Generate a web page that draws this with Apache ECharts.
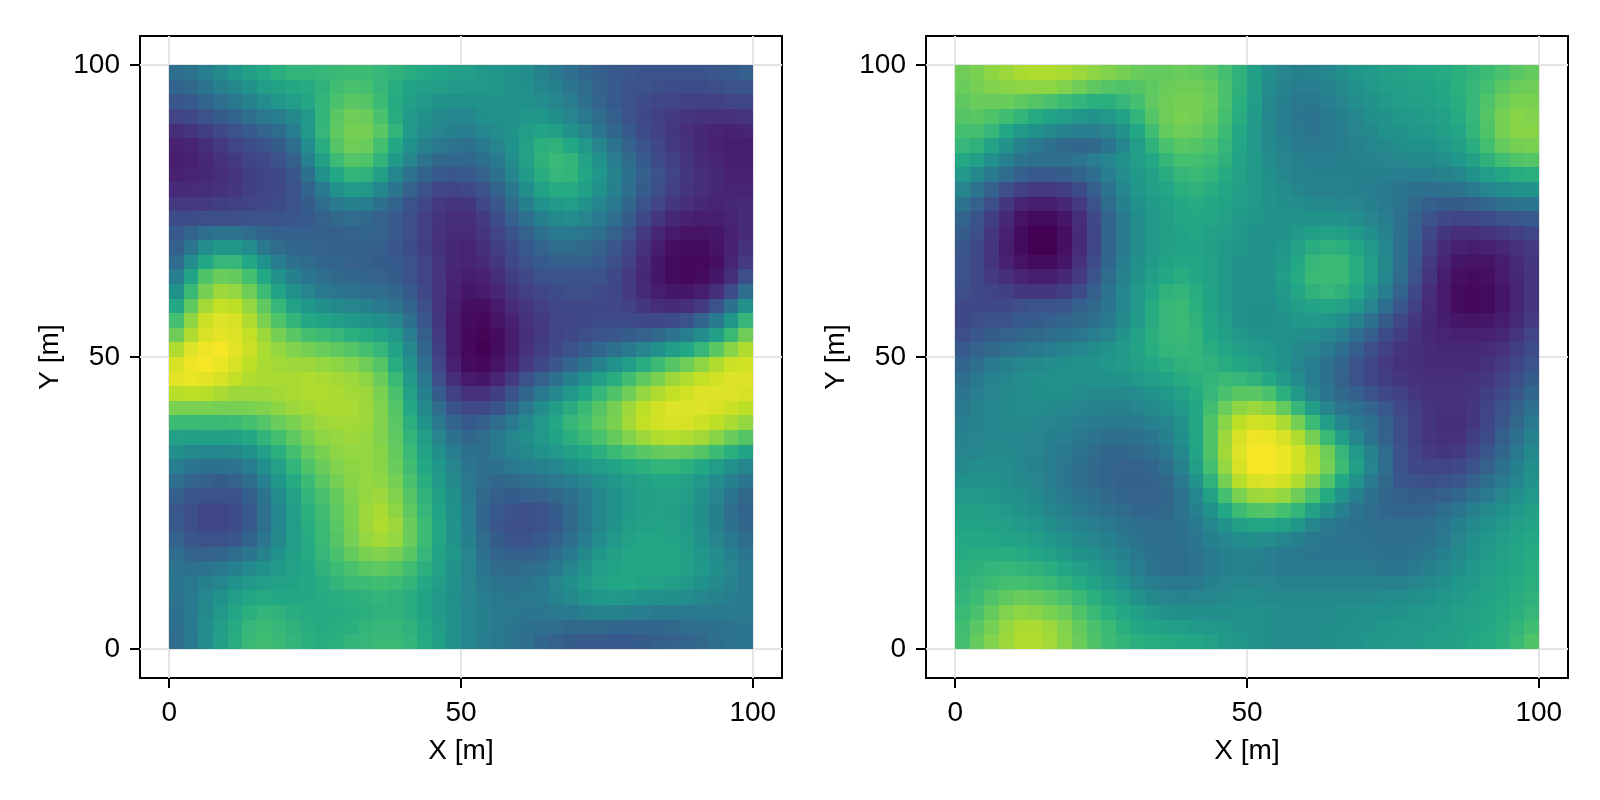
<!DOCTYPE html>
<html>
<head>
<meta charset="utf-8">
<style>html,body{margin:0;padding:0;background:#fff}#chart{width:1600px;height:800px}</style>
<script src="https://cdn.jsdelivr.net/npm/echarts@6/dist/echarts.min.js"></script>
</head>
<body>
<div id="chart"></div>
<script>
// Field samples, top row first, 40 cells across 0-100 m on each axis.
const fieldLeft = [
[36,38,42,47,52,56,60,63,65,65,66,67,68,68,66,64,62,60,58,56,55,53,52,50,48,44,40,36,33,30,28,27,26,26,26,26,26,27,28,30],
[32,34,38,43,47,51,55,58,60,61,64,69,71,70,66,62,58,56,55,54,53,53,52,51,49,46,43,39,35,31,28,26,25,24,23,23,23,24,25,26],
[27,28,32,36,40,44,48,52,55,59,65,71,74,73,68,61,56,53,51,50,50,51,51,51,50,48,46,42,37,32,28,25,23,21,20,19,19,19,20,21],
[20,22,25,29,32,36,40,42,47,53,65,74,78,77,71,62,54,50,47,46,46,49,50,51,52,52,49,45,40,35,30,26,22,19,17,15,14,14,14,15],
[13,15,18,22,25,28,32,35,42,53,66,75,79,79,74,65,54,48,45,43,42,46,48,51,55,58,56,51,45,39,33,28,23,19,16,13,11,10,9,10],
[9,10,13,17,20,23,26,29,36,48,62,73,78,77,70,60,50,44,40,38,37,41,45,50,57,63,64,60,53,45,38,31,26,21,17,14,11,9,8,8],
[8,9,11,14,17,20,22,25,31,43,57,68,73,72,65,54,45,38,34,33,33,36,41,48,57,64,67,65,58,50,42,35,28,23,19,15,12,10,8,8],
[9,10,11,13,15,18,20,22,27,37,50,60,65,64,56,46,38,32,28,27,28,31,37,45,54,62,66,65,59,52,44,37,30,25,20,16,13,11,9,9],
[12,12,13,14,16,18,20,22,25,32,41,50,54,53,46,39,31,25,21,20,22,26,32,40,49,57,61,61,56,50,43,36,29,24,19,15,13,11,10,10],
[17,17,17,18,19,20,21,23,25,29,35,41,43,42,37,32,26,21,17,15,16,21,27,35,43,50,54,55,51,46,40,33,26,20,16,13,11,10,11,12],
[23,23,24,24,24,25,25,26,27,28,31,34,35,34,31,28,24,19,15,13,13,17,23,30,37,43,47,48,45,41,36,29,22,16,11,9,8,8,10,12],
[28,32,36,38,38,35,32,30,30,30,30,30,31,32,31,28,24,19,14,12,12,15,20,26,31,37,40,41,39,36,31,25,17,11,7,5,5,6,9,12],
[30,39,48,52,52,48,40,35,33,32,31,30,30,30,30,27,23,18,14,11,10,13,18,23,28,32,35,35,34,31,27,21,14,8,4,3,3,5,9,14],
[35,48,60,66,66,60,50,42,37,35,33,32,31,30,29,28,25,20,15,11,10,12,16,21,25,28,30,30,30,28,24,19,12,6,3,2,2,4,10,17],
[42,58,72,77,76,70,60,50,43,39,36,34,33,32,31,29,26,20,15,10,8,9,13,18,22,25,26,26,26,25,22,17,11,6,3,2,3,6,13,24],
[50,67,79,85,84,78,68,58,50,45,41,39,38,36,35,33,28,22,15,9,6,7,10,15,19,21,23,24,24,23,21,17,12,8,6,6,8,13,23,36],
[60,75,86,91,90,84,75,66,57,52,49,47,45,43,41,38,32,24,15,8,4,4,7,12,16,19,21,22,22,22,21,19,16,13,12,13,17,25,37,50],
[70,83,92,95,94,88,80,72,65,60,58,55,53,51,49,45,37,27,16,7,3,2,5,9,14,17,20,21,22,23,23,23,22,22,23,26,32,41,52,66],
[78,88,94,96,95,91,85,79,74,70,68,66,63,61,58,53,42,30,17,7,2,1,3,8,13,17,20,22,24,26,27,29,31,34,38,42,48,56,67,78],
[88,95,98,99,96,92,87,84,81,79,77,75,73,70,66,58,47,33,18,7,2,0,3,8,14,18,22,25,29,33,37,41,45,50,55,60,66,74,82,88],
[94,98,99,97,94,90,87,86,85,85,84,83,81,78,73,62,51,36,20,9,3,2,5,10,17,22,27,32,38,44,50,55,62,68,73,78,83,88,92,93],
[96,97,96,94,91,88,87,87,87,88,87,86,85,83,77,67,54,40,24,13,7,6,10,17,25,31,37,43,50,56,62,69,75,80,85,88,91,93,95,95],
[89,90,89,87,85,85,85,86,87,88,88,87,86,85,80,71,57,43,29,19,14,14,18,25,33,40,46,53,60,66,72,78,84,88,91,93,95,95,95,94],
[80,80,80,79,79,80,81,83,85,86,87,87,87,85,81,73,60,47,35,26,22,22,26,33,41,48,55,62,67,73,79,85,90,93,95,95,95,94,92,90],
[68,68,67,67,68,70,73,77,80,83,85,86,86,85,81,74,63,51,40,32,28,30,35,41,47,53,60,66,70,75,80,86,91,93,94,94,92,90,87,84],
[57,56,56,56,57,60,65,70,75,80,83,84,85,84,81,75,65,55,45,37,33,35,40,45,49,53,58,63,67,71,76,81,85,88,89,88,86,82,77,73],
[49,47,46,46,47,50,56,63,70,76,80,83,84,84,82,76,67,58,49,42,37,36,40,44,47,50,53,56,60,63,67,71,74,76,77,76,73,68,63,58],
[42,39,37,37,38,42,49,57,65,72,77,81,83,84,82,77,69,60,52,45,39,36,37,40,42,44,46,49,52,55,58,61,63,65,65,63,60,55,50,46],
[36,32,30,29,31,35,43,52,61,68,74,79,82,84,83,79,71,62,54,47,40,35,33,34,36,38,40,42,45,49,52,55,57,59,59,57,53,48,43,39],
[30,27,25,25,26,30,38,48,57,65,71,76,81,84,85,81,73,64,56,49,41,34,30,29,30,31,34,37,41,46,50,54,56,57,57,55,50,45,39,34],
[27,24,21,21,23,28,36,46,55,63,69,75,80,85,87,83,75,66,58,50,42,33,28,25,24,26,29,34,40,46,50,54,56,57,56,54,49,43,36,32],
[28,24,21,21,23,28,36,46,55,62,68,74,80,85,88,85,77,68,59,51,42,33,27,24,24,25,28,34,40,46,51,55,57,58,57,54,49,43,37,33],
[31,27,25,25,27,32,39,47,55,61,67,73,79,84,86,84,77,68,59,51,43,35,29,26,26,28,31,36,42,48,53,57,59,59,58,55,50,45,40,36],
[35,32,31,32,35,39,44,50,56,61,66,71,76,80,81,79,74,66,58,52,45,37,32,30,30,32,36,41,47,52,56,59,60,60,59,56,52,48,43,39],
[38,37,38,40,43,47,50,54,57,60,64,68,71,74,75,73,69,63,57,51,45,39,35,34,35,37,41,46,51,55,58,60,60,60,59,56,53,49,45,41],
[39,40,43,46,50,53,55,57,58,60,62,65,67,68,69,68,65,60,55,50,45,41,38,37,38,41,45,49,54,57,59,59,58,57,55,53,50,47,44,41],
[38,41,46,50,55,59,61,60,60,60,61,62,63,64,65,64,62,58,53,49,45,42,40,39,40,41,44,47,50,52,53,52,51,50,49,48,46,44,42,41],
[37,41,47,53,59,63,65,64,62,61,61,61,62,63,64,64,62,58,54,50,46,43,41,40,39,39,40,41,43,44,44,43,42,41,41,41,41,41,41,40],
[36,41,48,55,61,66,68,66,64,62,61,62,63,65,66,66,64,60,55,50,46,43,41,39,37,36,35,34,34,34,33,33,33,33,34,35,36,37,38,39],
[35,40,48,56,62,67,69,67,65,63,62,63,65,66,67,67,65,61,56,50,46,42,40,38,36,33,31,29,28,28,28,28,29,30,31,32,34,36,38,39]
];
const fieldRight = [
[78,80,83,85,87,88,88,87,85,83,81,79,77,76,76,77,76,74,70,64,56,49,45,43,44,46,49,52,54,56,57,59,60,61,63,65,68,71,74,76],
[77,79,81,82,83,83,83,81,78,75,73,72,73,75,77,78,78,76,71,64,56,48,44,42,42,44,47,50,53,55,56,57,58,60,63,66,70,74,77,78],
[75,77,77,77,75,73,71,68,65,63,63,66,70,75,78,79,79,77,71,63,55,47,43,40,40,42,45,48,51,53,55,56,57,59,62,66,72,77,80,80],
[73,74,72,69,65,61,58,55,52,51,53,58,65,73,78,80,79,76,70,62,54,46,42,39,38,40,43,46,49,51,53,54,55,57,61,66,73,79,82,81],
[70,70,66,60,54,50,47,44,42,42,45,51,60,69,76,78,77,74,68,60,53,47,42,40,38,40,42,45,47,50,51,52,53,56,59,65,72,79,82,82],
[66,64,58,51,44,40,37,34,33,34,39,46,55,64,71,74,73,71,66,59,53,47,44,41,40,41,42,44,46,47,49,50,50,53,56,62,70,76,79,80],
[60,56,49,43,38,36,36,37,38,42,46,50,55,60,66,70,70,68,64,58,53,48,45,43,42,42,43,43,44,45,46,47,47,49,52,57,64,69,72,73],
[53,47,41,35,30,28,28,29,32,36,42,48,53,57,62,66,67,65,61,57,53,49,46,44,43,43,43,43,43,43,42,42,42,44,46,50,55,59,62,63],
[45,38,31,24,19,17,17,18,23,30,38,46,52,56,59,63,64,62,59,56,53,50,48,46,44,44,44,43,42,41,39,37,36,37,38,41,45,48,50,51],
[38,31,24,16,10,8,8,11,17,25,35,43,50,54,57,60,61,60,58,55,53,51,49,48,47,47,46,45,43,41,38,34,30,29,29,30,33,36,38,39],
[32,26,18,11,5,3,3,6,13,22,32,41,48,53,56,59,60,59,57,54,52,51,50,50,51,51,50,48,45,42,37,31,26,22,20,21,23,25,27,28],
[29,24,16,9,3,0,0,4,12,21,32,41,48,53,56,58,59,57,55,53,51,50,51,53,56,57,56,53,49,44,37,30,22,16,13,13,15,17,19,21],
[27,22,15,8,3,0,0,4,12,21,32,41,48,53,56,58,58,56,54,52,50,50,52,57,62,64,63,59,53,46,37,28,19,12,9,8,9,11,14,17],
[26,22,15,9,5,3,3,6,14,23,33,42,49,54,58,60,59,57,54,51,50,51,54,60,66,68,67,62,55,47,37,27,17,10,6,5,5,8,12,16],
[25,22,17,13,10,8,8,11,17,26,35,44,51,56,60,62,60,57,54,51,50,51,55,61,67,68,67,62,55,46,35,25,15,8,4,3,4,7,11,15],
[24,22,20,18,16,16,16,18,23,30,38,46,53,59,64,65,62,58,54,51,50,50,54,59,64,66,64,59,51,42,32,22,13,7,3,2,3,6,10,15],
[22,22,22,22,24,26,26,27,30,34,39,46,53,61,66,67,63,58,54,50,49,49,52,55,58,59,57,52,45,36,27,19,12,7,3,2,3,6,10,15],
[22,24,25,26,28,29,30,32,34,37,41,47,54,62,66,67,64,59,55,51,49,49,50,52,53,52,49,44,37,29,22,16,11,8,6,5,6,8,12,17],
[24,27,29,31,33,34,35,37,39,42,45,51,57,63,66,67,65,60,56,53,51,50,50,49,48,46,42,36,30,23,18,14,11,10,9,9,9,11,15,20],
[28,31,34,37,39,41,42,44,46,48,51,54,58,62,65,66,65,62,59,56,54,52,50,47,45,41,36,30,24,19,15,13,12,11,11,11,12,14,18,23],
[32,36,40,43,46,47,48,49,50,51,52,54,56,59,62,64,65,64,62,60,57,54,50,46,42,37,32,26,21,17,14,13,12,12,12,12,14,17,21,26],
[36,40,44,46,48,49,50,50,50,50,50,51,53,55,58,61,63,65,67,66,64,60,54,48,42,37,31,26,21,18,16,14,13,13,13,14,16,19,24,29],
[39,42,45,47,48,49,49,49,48,47,47,47,48,51,54,57,61,66,71,74,74,71,63,54,45,39,34,30,26,22,19,16,14,14,14,15,18,22,27,33],
[41,44,46,47,48,48,47,46,45,44,43,43,45,47,50,54,60,69,77,83,85,83,76,66,55,45,39,36,32,27,22,18,15,14,14,16,20,25,31,37],
[42,44,46,47,47,46,45,44,42,41,40,40,41,43,46,51,60,72,82,90,93,92,87,79,68,55,46,41,37,30,24,19,15,13,13,16,21,27,34,41],
[44,45,46,46,46,45,43,42,40,38,36,36,37,39,43,49,59,72,85,94,98,97,94,88,79,67,55,46,38,31,24,19,15,14,14,18,23,30,37,44],
[45,46,47,47,46,45,42,40,38,35,33,33,34,36,40,47,58,72,86,95,99,99,97,93,87,78,66,54,44,35,25,20,17,16,17,21,27,33,40,47],
[47,48,48,48,46,44,42,39,36,34,32,31,31,33,37,44,55,70,84,94,99,99,97,93,88,79,68,56,45,36,26,22,20,20,22,25,31,37,43,49],
[50,50,50,49,47,45,42,39,36,34,32,30,30,31,34,41,51,64,79,89,94,95,93,88,81,72,60,50,41,34,27,25,24,25,27,31,36,41,46,51],
[53,53,52,51,49,47,44,41,38,36,34,32,31,31,33,38,46,57,70,80,85,86,84,78,71,61,51,43,37,33,30,29,29,30,33,37,41,45,49,53],
[56,56,55,53,51,49,46,43,41,39,37,35,33,33,34,38,43,50,60,68,72,73,70,65,57,49,43,38,35,33,32,32,33,36,39,43,47,50,53,56],
[58,58,57,56,54,52,49,46,44,42,40,38,36,35,35,37,41,46,51,56,59,59,57,52,46,41,39,37,36,35,35,35,36,39,43,47,50,53,56,58],
[60,60,60,58,57,55,52,50,47,45,43,40,38,36,36,37,39,43,46,48,49,48,46,43,40,39,38,38,37,36,36,36,38,41,45,49,52,55,58,60],
[61,62,62,62,61,59,57,54,51,49,46,43,40,37,36,36,38,41,43,44,44,42,41,40,39,39,39,39,38,37,37,38,40,43,47,50,54,57,59,61],
[63,64,65,66,65,64,62,59,56,53,50,46,42,38,36,36,38,41,43,44,43,42,41,41,41,41,41,40,40,39,39,41,43,46,49,52,55,58,60,62],
[64,66,68,70,70,69,67,64,61,58,54,50,46,42,40,40,41,43,45,46,45,45,44,44,44,44,44,44,44,44,44,45,47,49,52,54,57,59,61,63],
[65,68,72,75,77,76,74,71,67,63,59,55,51,47,45,44,45,46,47,48,48,47,47,47,47,47,47,47,47,48,48,49,50,52,54,56,58,60,62,64],
[67,71,76,81,83,82,80,77,72,67,63,60,56,53,50,49,49,49,49,50,50,49,48,48,48,48,49,49,50,50,51,52,53,54,56,57,59,61,63,66],
[69,74,79,84,87,87,85,81,76,71,67,63,60,58,56,55,54,53,52,51,50,49,48,48,48,49,49,50,51,52,53,53,54,55,56,58,60,62,65,69],
[70,76,81,85,88,88,86,82,77,72,68,65,63,62,61,60,59,57,54,52,50,49,48,48,48,49,50,51,52,53,53,54,55,56,57,59,61,63,67,72]
];
const tickValues = [0, 50, 100];
const xAxisTitle = 'X [m]';
const yAxisTitle = 'Y [m]';
const viridis = ['#440154','#482475','#414487','#355f8d','#2a788e','#21918c','#22a884','#44bf70','#7ad151','#bddf26','#fde725'];

const CELL = 2.5;
const FONT = '"Liberation Sans", Arial, sans-serif';

// Flatten a top-first grid into [x, y, value] triples at the cell centres.
function toTriples(rows) {
  const out = [];
  rows.forEach((row, r) => row.forEach((v, c) => {
    out.push([(c + 0.5) * CELL, 100 - (r + 0.5) * CELL, v]);
  }));
  return out;
}

function renderCell(params, api) {
  const x = api.value(0), y = api.value(1);
  const a = api.coord([x - CELL / 2, y + CELL / 2]);
  const b = api.coord([x + CELL / 2, y - CELL / 2]);
  const x0 = Math.round(a[0]), y0 = Math.round(a[1]);
  return {
    type: 'rect',
    shape: { x: x0, y: y0, width: Math.round(b[0]) - x0, height: Math.round(b[1]) - y0 },
    style: { fill: api.visual('color') }
  };
}

function axis(gridIndex, title, gap, margin, labelPadding) {
  return {
    type: 'value', gridIndex, min: -5, max: 105,
    name: title, nameLocation: 'middle', nameGap: gap,
    nameTextStyle: { fontFamily: FONT, fontSize: 28, color: '#000' },
    axisLine: { show: false, onZero: false },
    axisTick: { show: true, length: 10, customValues: tickValues, lineStyle: { color: '#000', width: 2 } },
    axisLabel: { show: true, customValues: tickValues, margin, padding: labelPadding, fontFamily: FONT, fontSize: 28, color: '#000' },
    splitLine: { show: true, lineStyle: { color: '#e4e4e4', width: 2 } }
  };
}

const chart = echarts.init(document.getElementById('chart'), null, { renderer: 'canvas' });
const panels = [fieldLeft, fieldRight];
const grids = [140, 926].map(left => ({
  show: true, left, top: 36, width: 642, height: 642,
  borderColor: '#000', borderWidth: 2, backgroundColor: 'transparent'
}));

chart.setOption({
  animation: false,
  backgroundColor: '#fff',
  grid: grids,
  xAxis: panels.map((_, i) => axis(i, xAxisTitle, 59, 21, 0)),
  yAxis: panels.map((_, i) => axis(i, yAxisTitle, 76, 20, [4, 0, 0, 0])),
  visualMap: {
    show: false, type: 'continuous', min: 0, max: 100, dimension: 2,
    seriesIndex: [0, 1], inRange: { color: viridis }
  },
  series: panels.map((rows, i) => ({
    type: 'custom', coordinateSystem: 'cartesian2d',
    xAxisIndex: i, yAxisIndex: i,
    encode: { x: 0, y: 1 },
    renderItem: renderCell,
    data: toTriples(rows),
    silent: true
  }))
});
</script>
</body>
</html>
